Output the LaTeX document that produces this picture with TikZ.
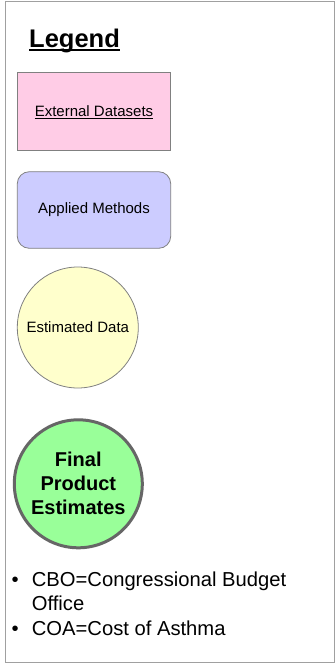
\documentclass[tikz,border=0pt]{standalone}
\usepackage{fontspec}
\setmainfont{Liberation Sans}
\usetikzlibrary{calc}
\definecolor{framegrey}{HTML}{A0A0A0}
\definecolor{edgegrey}{HTML}{808080}
\definecolor{darkedge}{HTML}{666666}
\definecolor{datapink}{HTML}{FFCCE6}
\definecolor{methodblue}{HTML}{CCCCFF}
\definecolor{estyellow}{HTML}{FFFFCC}
\definecolor{finalgreen}{HTML}{99FF99}
\tikzset{
  shapetext/.style={font=\fontsize{15}{18}\selectfont, text=black},
  datasetbox/.style={draw=edgegrey, fill=datapink, line width=0.8pt,
    minimum width=153.4pt, minimum height=77.7pt, inner sep=0pt, shapetext},
  methodbox/.style={draw=edgegrey, fill=methodblue, line width=0.8pt,
    rounded corners=12pt, minimum width=153.4pt, minimum height=76.6pt,
    inner sep=0pt, shapetext},
  estcircle/.style={circle, draw=edgegrey, fill=estyellow, line width=0.8pt,
    minimum size=121pt, inner sep=0pt, shapetext},
  finalcircle/.style={circle, draw=darkedge, fill=finalgreen, line width=3pt,
    minimum size=128pt, inner sep=0pt, align=center,
    font=\bfseries\fontsize{20}{24}\selectfont},
  listtext/.style={font=\fontsize{20.2}{24}\selectfont, anchor=base west,
    inner sep=0pt},
}
\begin{document}
\begin{tikzpicture}[x=1pt,y=-1pt]
  \useasboundingbox (0,0) rectangle (335,665);
  % outer frame
  \draw[framegrey, line width=1pt] (5,1) rectangle (334,662);

  % title
  \node[anchor=base west, inner sep=0pt,
        font=\bfseries\fontsize{25.5}{30}\selectfont] (title) at (29,47) {Legend};
  \draw[line width=1.8pt] ($(title.base west)+(0,2.6)$) -- ($(title.base east)+(0,2.6)$);

  % legend entries
  \node[datasetbox] (ext) at (94,111.2) {};
  \node[anchor=base, inner sep=0pt, shapetext] (extlabel) at ($(ext.center)+(0,5.3)$) {External Datasets};
  \draw[line width=0.7pt] ($(extlabel.base west)+(0,2)$) -- ($(extlabel.base east)+(0,2)$);

  \node[methodbox] (meth) at (94,210) {Applied Methods};
  \node[estcircle] (est) at (77.8,327.5) {Estimated Data};
  \node[finalcircle] (final) at (78.3,483.8) {Final\\Product\\Estimates};

  % abbreviations
  \node[listtext] (bulA) at (11.5,586.7) {•};
  \node[listtext] (abbrA) at (31.7,586.7) {CBO=Congressional Budget};
  \node[listtext] (abbrA2) at (31.7,610.5) {Office};
  \node[listtext] (bulB) at (11.5,635) {•};
  \node[listtext] (abbrB) at (31.7,635) {COA=Cost of Asthma};
\end{tikzpicture}
\end{document}
